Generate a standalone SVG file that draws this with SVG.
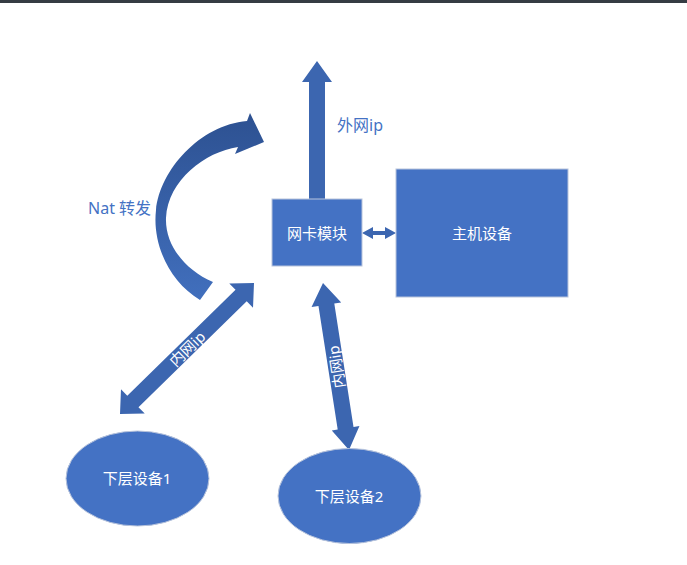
<svg xmlns="http://www.w3.org/2000/svg" width="687" height="565" viewBox="0 0 687 565">
<style>
.node{fill:#4472c4;stroke:#b8c4dc;stroke-width:1}
.arr{fill:#3c66b0}
.wt{fill:#ffffff;font-family:"Noto Sans","Noto Sans CJK SC",sans-serif;font-size:15px;text-anchor:middle;dominant-baseline:central}
.bt{fill:#4472c4;font-family:"Noto Sans","Noto Sans CJK SC",sans-serif;font-size:16px;dominant-baseline:central}
</style>
<defs>
<linearGradient id="cg" x1="0" y1="0" x2="0" y2="1">
<stop offset="0" stop-color="#2d5191"/>
<stop offset="1" stop-color="#416fbd"/>
</linearGradient>
</defs>
<rect x="0" y="0" width="687" height="565" fill="#ffffff"/>
<rect x="0" y="0" width="687" height="3" fill="#353c43"/>

<g id="connectors">
<polygon class="arr" points="309,199 309,82 302,82 317,61 332,82 325,82 325,199"/>
<polygon class="arr" points="362,233 373,227 373,231 385,231 385,227 396,233 385,239 385,235 373,235 373,239"/>
<path fill="url(#cg)" d="M200,300 C170,282 152,245 156,210 C160,170 200,125 247,121 L250,113 L264,142 L235,154 L238,147 C205,152 168,180 166,218 C165,245 185,270 213,282 Z"/>
<g transform="translate(120,414) rotate(-44.35)">
<polygon class="arr" points="0,0 18,-17 18,-8 169.4,-8 169.4,-17 187.4,0 169.4,17 169.4,8 18,8 18,17"/>
<text class="wt" x="93.7" y="0" font-size="15">内网ip</text>
</g>
<g transform="translate(323,283) rotate(81.15)">
<polygon class="arr" points="0,0 22,-15 22,-8 147,-8 147,-14 169,0 147,14 147,8 22,8 22,15"/>
<text class="wt" x="85" y="0" transform="rotate(180 85 0)">内网ip</text>
</g>
</g>

<g id="label-out"><text class="bt" x="337" y="125">外网ip</text></g>
<g id="label-nat"><text class="bt" x="88" y="208">Nat 转发</text></g>

<g id="nic">
<rect class="node" x="272" y="199" width="90" height="67"/>
<text class="wt" x="317" y="233">网卡模块</text>
</g>
<g id="host">
<rect class="node" x="396" y="169" width="172" height="128"/>
<text class="wt" x="482" y="233">主机设备</text>
</g>
<g id="dev1">
<ellipse class="node" cx="137.5" cy="478.5" rx="71.5" ry="47.5"/>
<text class="wt" x="137" y="478">下层设备1</text>
</g>
<g id="dev2">
<ellipse class="node" cx="349.5" cy="496" rx="71.5" ry="47.5"/>
<text class="wt" x="349" y="496">下层设备2</text>
</g>
</svg>
